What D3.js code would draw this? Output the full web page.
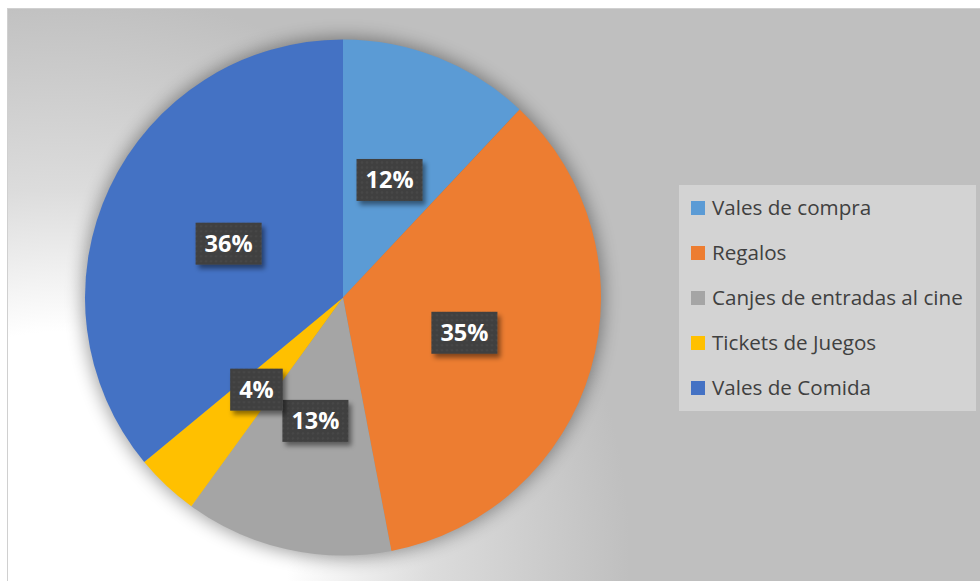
<!DOCTYPE html>
<html><head><meta charset="utf-8">
<script src="https://cdn.jsdelivr.net/npm/d3@7"></script>
<style>html,body{margin:0;padding:0;background:#fff;overflow:hidden}</style>
</head><body>
<script>
const categories = ["Vales de compra","Regalos","Canjes de entradas al cine","Tickets de Juegos","Vales de Comida"];
const values = [12, 35, 13, 4, 36];
const colors = ["#5B9BD5","#ED7D31","#A5A5A5","#FFC000","#4472C4"];

const W = 980, H = 581;
const svg = d3.select("body").append("svg").attr("width", W).attr("height", H);
const defs = svg.append("defs");

const rg = defs.append("radialGradient").attr("id","bg").attr("gradientUnits","userSpaceOnUse")
  .attr("cx",60).attr("cy",560).attr("r",570);
rg.append("stop").attr("offset","0.4").attr("stop-color","#ffffff");
rg.append("stop").attr("offset","0.65").attr("stop-color","#dcdcdc");
rg.append("stop").attr("offset","1").attr("stop-color","#bfbfbf");

const blur = defs.append("filter").attr("id","pieShadow").attr("x","-20%").attr("y","-20%").attr("width","140%").attr("height","140%");
blur.append("feGaussianBlur").attr("stdDeviation",9);

const lblShadow = defs.append("filter").attr("id","lblShadow").attr("x","-30%").attr("y","-30%").attr("width","170%").attr("height","170%");
lblShadow.append("feDropShadow").attr("dx",3).attr("dy",4).attr("stdDeviation",2.5).attr("flood-color","#000").attr("flood-opacity",0.45);

const pat = defs.append("pattern").attr("id","tex").attr("patternUnits","userSpaceOnUse").attr("width",5).attr("height",5);
pat.append("rect").attr("width",5).attr("height",5).attr("fill","#404040");
pat.append("circle").attr("cx",2.5).attr("cy",2.5).attr("r",1.2).attr("fill","#484848");

svg.append("rect").attr("x",7.5).attr("y",8.5).attr("width",W).attr("height",H)
  .attr("fill","url(#bg)").attr("stroke","#d0d0d0").attr("stroke-width",1);

const cx = 343, cy = 297.5, r = 258;
const g = svg.append("g").attr("transform",`translate(${cx},${cy})`);

g.append("circle").attr("r", r+2).attr("fill","#000").attr("opacity",0.38).attr("filter","url(#pieShadow)");

const pie = d3.pie().sort(null).value(d => d)(values);
const arc = d3.arc().innerRadius(0).outerRadius(r);
g.selectAll("path.slice").data(pie).enter().append("path").attr("class","slice")
  .attr("d", arc).attr("fill", (d,i) => colors[i]);

const labelArc = d3.arc().innerRadius(r*0.49).outerRadius(r*0.49);
const lbls = g.selectAll("g.lbl").data(pie).enter().append("g").attr("class","lbl")
  .attr("transform", d => { const c = labelArc.centroid(d); return `translate(${c[0]},${c[1]})`; });
lbls.each(function(d){
  const gg = d3.select(this);
  const t = gg.append("text").text(d.data + "%")
    .attr("font-family","'Open Sans', sans-serif").attr("font-weight","bold").attr("font-size",23.5)
    .attr("fill","#fff").attr("text-anchor","middle").attr("dy","0.36em");
  const w = t.node().getComputedTextLength();
  gg.insert("rect","text").attr("x",-w/2-9).attr("y",-21).attr("width",w+18).attr("height",42)
    .attr("fill","url(#tex)").attr("filter","url(#lblShadow)");
});

const lg = svg.append("g");
lg.append("rect").attr("x",679).attr("y",185).attr("width",297).attr("height",226).attr("fill","#d3d3d3");
const items = lg.selectAll("g.item").data(categories).enter().append("g").attr("class","item")
  .attr("transform",(d,i)=>`translate(691,${208 + i*45})`);
items.append("rect").attr("x",0).attr("y",-7).attr("width",14).attr("height",14).attr("fill",(d,i)=>colors[i]);
const txt = items.append("text").attr("x",21).attr("y",7).text(d=>d)
  .attr("font-family","'Open Sans', sans-serif").attr("font-size",19).attr("fill","#404040");
let maxW = 0; txt.each(function(){ maxW = Math.max(maxW, this.getComputedTextLength()); });
txt.attr("font-size", 19 * 251 / maxW);
</script>
</body></html>
